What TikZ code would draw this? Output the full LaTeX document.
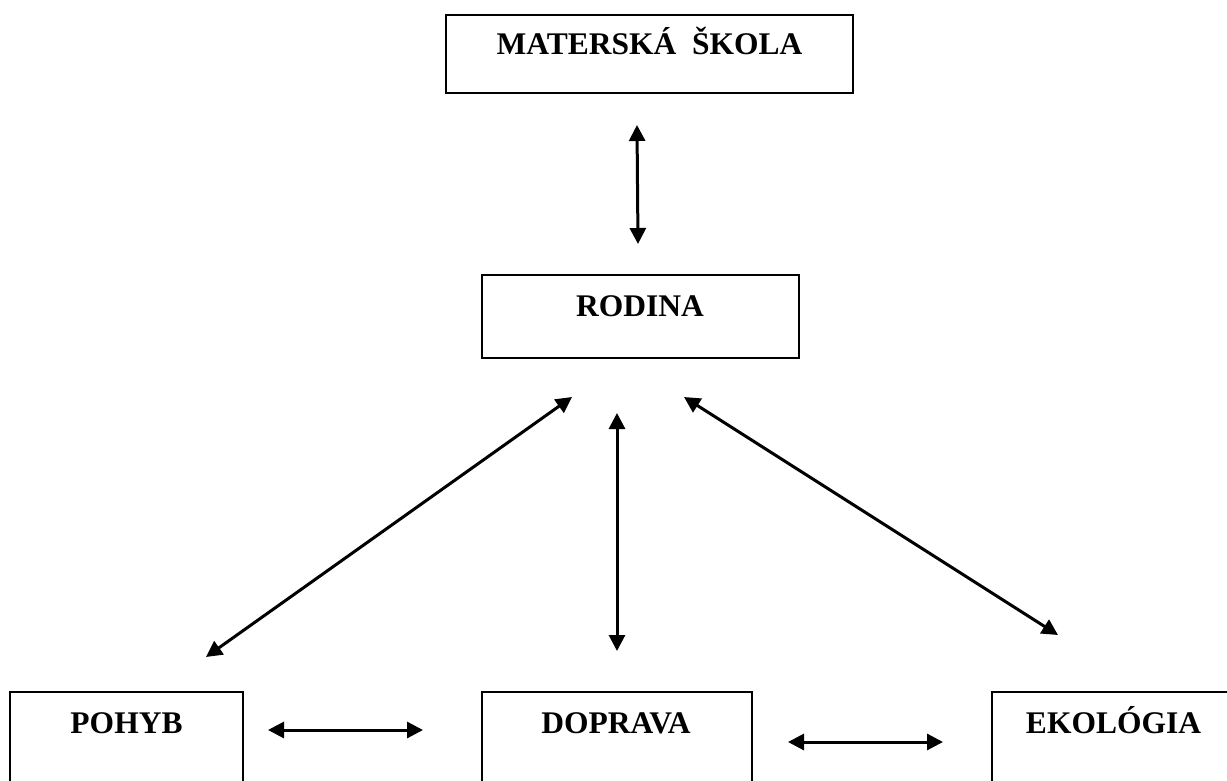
\documentclass[tikz,border=0pt]{standalone}
\usepackage{fontspec}
\setmainfont{Liberation Serif}
\usetikzlibrary{arrows.meta}
\begin{document}
\begin{tikzpicture}[x=1pt,y=-1pt,
  box/.style={draw,line width=2.3pt,inner sep=0pt,outer sep=0pt},
  lbl/.style={font=\fontsize{31.5}{36}\selectfont\bfseries,anchor=base,inner sep=0pt},
  link/.style={line width=3pt,{Triangle[length=16pt,width=16pt]}-{Triangle[length=16pt,width=16pt]}}]
\useasboundingbox (0,0) rectangle (1227,781);
\clip (0,0) rectangle (1227,781);
% boxes
\node[box,minimum width=407pt,minimum height=78pt] (ms) at (649.5,54) {};
\node[box,minimum width=317pt,minimum height=83pt] (rod) at (640.5,316.5) {};
\node[box,minimum width=233pt,minimum height=138pt] (poh) at (126.5,761) {};
\node[box,minimum width=270pt,minimum height=138pt] (dop) at (617,761) {};
\node[box,minimum width=268pt,minimum height=138pt] (eko) at (1126,761) {};
% labels
\node[lbl] (mst) at (649.5,55) {MATERSKÁ\ \ ŠKOLA};
\node[lbl] (rodt) at (640,316) {RODINA};
\node[lbl] (poht) at (126.5,733) {POHYB};
\node[lbl] (dopt) at (616,733) {DOPRAVA};
\node[lbl] (ekot) at (1113.5,733) {EKOLÓGIA};
% connector ends
\coordinate (a1s) at (637,125);
\coordinate (a1e) at (638,244);
\coordinate (a2s) at (572,397);
\coordinate (a2e) at (206,657);
\coordinate (a3s) at (617,413);
\coordinate (a3e) at (617,651);
\coordinate (a4s) at (684,397);
\coordinate (a4e) at (1058,635);
\coordinate (a5s) at (268,730);
\coordinate (a5e) at (423,730);
\coordinate (a6s) at (788,742);
\coordinate (a6e) at (943,742);
% connectors
\draw[link] (a1s) -- (a1e);
\draw[link] (a2s) -- (a2e);
\draw[link] (a3s) -- (a3e);
\draw[link] (a4s) -- (a4e);
\draw[link] (a5s) -- (a5e);
\draw[link] (a6s) -- (a6e);
\end{tikzpicture}
\end{document}
